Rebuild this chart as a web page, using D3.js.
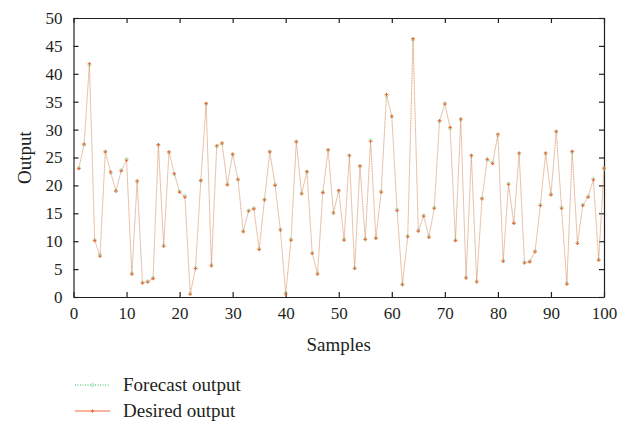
<!DOCTYPE html>
<html>
<head>
<meta charset="utf-8">
<script src="https://cdn.jsdelivr.net/npm/d3@7"></script>
<style>
  body { margin: 0; background: #fff; }
  svg text { font-family: "Liberation Serif", "DejaVu Serif", serif; fill: #231f20; }
</style>
</head>
<body>
<div id="chart"></div>
<script>
// desired output, samples 1..100
const desired = [
  23.0, 27.4, 41.8, 10.1, 7.3, 26.0, 22.4, 19.0, 22.6, 24.5,
  4.1, 20.8, 2.5, 2.7, 3.3, 27.3, 9.1, 26.0, 22.1, 18.8,
  17.9, 0.5, 5.1, 20.9, 34.7, 5.6, 27.1, 27.6, 20.1, 25.6,
  21.1, 11.7, 15.4, 15.8, 8.5, 17.4, 26.0, 20.0, 12.0, 0.5,
  10.2, 27.8, 18.5, 22.5, 7.8, 4.1, 18.7, 26.4, 15.1, 19.1,
  10.2, 25.4, 5.1, 23.5, 10.3, 27.9, 10.5, 18.8, 36.3, 32.4,
  15.5, 2.2, 10.8, 46.3, 11.8, 14.5, 10.7, 15.9, 31.6, 34.6,
  30.4, 10.1, 31.9, 3.4, 25.4, 2.7, 17.6, 24.7, 23.9, 29.2,
  6.4, 20.2, 13.2, 25.8, 6.1, 6.3, 8.1, 16.4, 25.8, 18.3,
  29.7, 15.9, 2.3, 26.1, 9.6, 16.4, 17.9, 21.0, 6.6, 23.1
];

// forecast output, nearly on top of the desired values
const forecast = [
  23.1, 27.3, 41.6, 10.2, 7.5, 26.1, 22.3, 19.0, 22.7, 24.7,
  4.2, 20.7, 2.6, 2.8, 3.4, 27.2, 9.2, 25.9, 22.0, 18.9,
  18.1, 0.6, 5.2, 20.8, 34.6, 5.7, 27.0, 27.5, 20.2, 25.5,
  21.0, 11.8, 15.5, 15.9, 8.6, 17.5, 26.1, 20.1, 12.1, 0.7,
  10.3, 27.9, 18.6, 22.4, 7.9, 4.2, 18.8, 26.3, 15.0, 19.0,
  10.3, 25.3, 5.2, 23.4, 10.4, 28.1, 10.6, 18.9, 36.1, 32.3,
  15.6, 2.3, 10.9, 46.1, 11.9, 14.6, 10.8, 16.0, 31.5, 34.7,
  30.2, 10.2, 31.8, 3.5, 25.3, 2.8, 17.7, 24.6, 24.1, 29.0,
  6.5, 20.3, 13.3, 25.7, 6.2, 6.4, 8.2, 16.5, 25.7, 18.4,
  29.6, 16.0, 2.4, 26.0, 9.7, 16.5, 18.0, 21.2, 6.7, 23.0
];

const xTicks = [0, 10, 20, 30, 40, 50, 60, 70, 80, 90, 100];
const yTicks = [0, 5, 10, 15, 20, 25, 30, 35, 40, 45, 50];
const seriesNames = ['Forecast output', 'Desired output'];

const width = 635, height = 426;
const margin = { top: 18, right: 31, bottom: 129, left: 73.5 };
const innerW = width - margin.left - margin.right;
const innerH = height - margin.top - margin.bottom;

const svg = d3.select('#chart').append('svg')
    .attr('width', width)
    .attr('height', height);

const g = svg.append('g')
    .attr('transform', `translate(${margin.left},${margin.top})`);

const x = d3.scaleLinear().domain([0, 100]).range([0, innerW]);
const y = d3.scaleLinear().domain([0, 50]).range([innerH, 0]);

const axisColor = '#231f20';

// axes with inward ticks on all four sides
const axisBottomG = g.append('g')
    .attr('transform', `translate(0,${innerH})`)
    .call(d3.axisBottom(x).tickValues(xTicks).tickSize(-5).tickPadding(10).tickSizeOuter(0));
const axisTopG = g.append('g')
    .call(d3.axisTop(x).tickValues(xTicks).tickSize(-5).tickFormat('').tickSizeOuter(0));
const axisLeftG = g.append('g')
    .call(d3.axisLeft(y).tickValues(yTicks).tickSize(-5).tickPadding(11).tickSizeOuter(0));
const axisRightG = g.append('g')
    .attr('transform', `translate(${innerW},0)`)
    .call(d3.axisRight(y).tickValues(yTicks).tickSize(-5).tickFormat('').tickSizeOuter(0));

[axisBottomG, axisTopG, axisLeftG, axisRightG].forEach(a => {
    a.select('.domain').attr('stroke', axisColor).attr('stroke-width', 1.2);
    a.selectAll('.tick line').attr('stroke', axisColor).attr('stroke-width', 1.2);
    a.selectAll('.tick text').attr('font-size', 17).style('font-family', '"Liberation Serif", serif').attr('fill', axisColor);
});

const forecastColor = '#3cc060';
const desiredColor = '#ee6a3a';

const line = d3.line()
    .x((d, i) => x(i + 1))
    .y(d => y(d));

// forecast: dotted green with hollow circles
g.append('path')
    .datum(forecast)
    .attr('fill', 'none')
    .attr('stroke', '#9fdcae')
    .attr('stroke-width', 0.6)
    .attr('stroke-dasharray', '1,1.5')
    .attr('d', line);

g.append('g').selectAll('circle')
    .data(forecast)
    .enter().append('circle')
    .attr('cx', (d, i) => x(i + 1))
    .attr('cy', d => y(d))
    .attr('r', 1.6)
    .attr('fill', 'none')
    .attr('stroke', '#9fe0b0')
    .attr('stroke-width', 0.8);

// desired: thin orange line with small plus markers
g.append('path')
    .datum(desired)
    .attr('fill', 'none')
    .attr('stroke', desiredColor)
    .attr('stroke-opacity', 0.45)
    .attr('stroke-width', 0.8)
    .attr('d', line);

const plus = d3.symbol().type(d3.symbolCross).size(6);
g.append('g').selectAll('path')
    .data(desired)
    .enter().append('path')
    .attr('transform', (d, i) => `translate(${x(i + 1)},${y(d)})`)
    .attr('d', plus)
    .attr('fill', desiredColor);

// axis titles
svg.append('text')
    .attr('x', margin.left + innerW / 2)
    .attr('y', 351)
    .attr('text-anchor', 'middle')
    .attr('font-size', 19)
    .text('Samples');

svg.append('text')
    .attr('transform', `translate(31,${margin.top + innerH / 2}) rotate(-90)`)
    .attr('text-anchor', 'middle')
    .attr('font-size', 19)
    .text('Output');

// legend
const legend = svg.append('g').attr('transform', 'translate(75,0)');
const legendY = [385, 411];

legend.append('line')
    .attr('x1', 0).attr('x2', 35)
    .attr('y1', legendY[0]).attr('y2', legendY[0])
    .attr('stroke', forecastColor)
    .attr('stroke-width', 1)
    .attr('stroke-dasharray', '1,1.5');
legend.append('circle')
    .attr('cx', 17.5).attr('cy', legendY[0]).attr('r', 1.6)
    .attr('fill', 'none').attr('stroke', '#9fe0b0').attr('stroke-width', 0.8);

legend.append('line')
    .attr('x1', 0).attr('x2', 35)
    .attr('y1', legendY[1]).attr('y2', legendY[1])
    .attr('stroke', desiredColor)
    .attr('stroke-width', 1);
legend.append('path')
    .attr('transform', `translate(17.5,${legendY[1]})`)
    .attr('d', plus)
    .attr('fill', desiredColor);

legend.selectAll('text.lab')
    .data(seriesNames)
    .enter().append('text')
    .attr('class', 'lab')
    .attr('x', 48)
    .attr('y', (d, i) => legendY[i] + 6)
    .attr('font-size', 19)
    .text(d => d);
</script>
</body>
</html>
